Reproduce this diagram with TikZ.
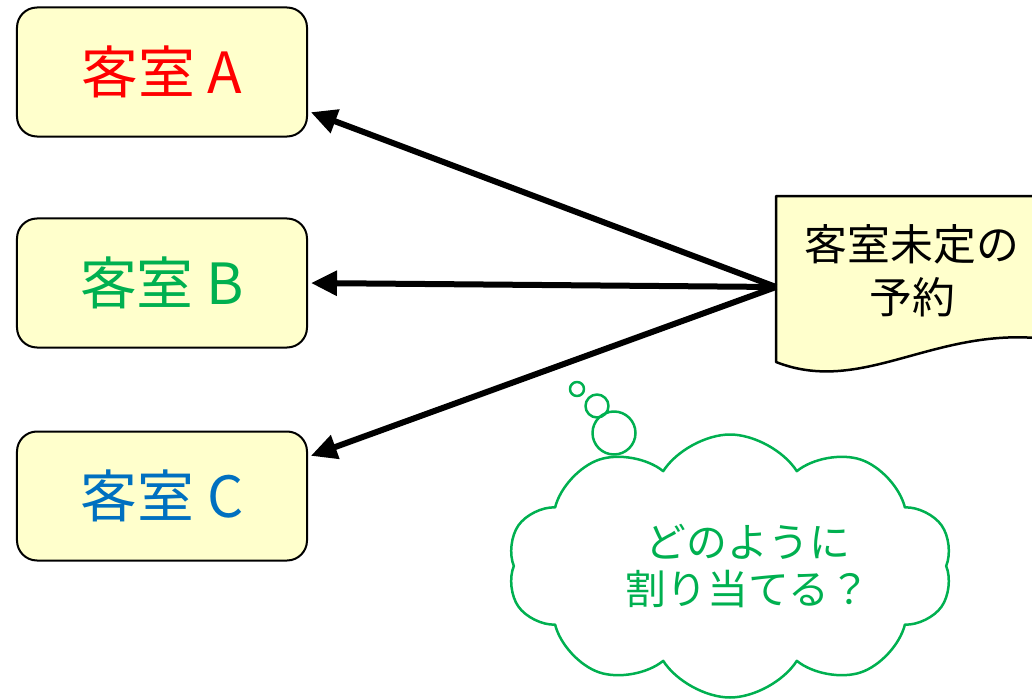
\documentclass[tikz,border=0pt]{standalone}
\usepackage{fontspec}
\setmainfont{Noto Sans CJK JP}
\usetikzlibrary{arrows.meta,shapes.symbols}
\definecolor{roomfill}{HTML}{FFFFCC}
\definecolor{roomred}{HTML}{FF0000}
\definecolor{roomgreen}{HTML}{00B050}
\definecolor{roomblue}{HTML}{0070C0}
\tikzset{
  room/.style={draw=black, line width=2bp, fill=roomfill, rounded corners=20bp,
    minimum width=290bp, minimum height=129bp, font=\fontsize{57}{62}\selectfont},
  assign/.style={line width=6bp, -{Triangle[length=26bp,width=24bp]}, shorten >=3bp},
  docshape/.style={draw=black, line width=2.5bp, fill=roomfill},
  thought/.style={cloud, draw=roomgreen, line width=2.5bp, cloud puffs=10,
    cloud puff arc=115, aspect=1.7, minimum width=445bp, minimum height=263bp},
  bubble/.style={circle, draw=roomgreen, line width=2.5bp, inner sep=0pt},
}
\begin{document}
\begin{tikzpicture}[x=1bp,y=-1bp,line join=round]
  \useasboundingbox (0,0) rectangle (1032,699);
%%
  % Rooms
  \node[room, text=roomred]   (roomA) at (162,72)  {客室 A};
  \node[room, text=roomgreen] (roomB) at (162,283) {客室 B};
  \node[room, text=roomblue]  (roomC) at (162,496) {客室 C};
  % Reservation without room
  \draw[docshape] (776,196) -- (1036,196) -- (1036,338)
    .. controls (930,330) and (860,395) .. (776,362) -- cycle;
  \node[align=center, font=\fontsize{43}{53}\selectfont] (resv) at (912,271) {客室未定の\\予約};
  \coordinate (resvW) at (776,287);
  % Edges: reservation -> rooms
  \draw[assign] (resvW) -- (roomA.-15);
  \draw[assign] (resvW) -- (roomB.east);
  \draw[assign] (resvW) -- (roomC.15);
  % Thought cloud
  \node[thought] (think) at (730,566) {};
  \node[bubble, minimum size=14bp] (bub1) at (577,389) {};
  \node[bubble, minimum size=23bp] (bub2) at (597,406) {};
  \node[bubble, minimum size=43bp] (bub3) at (614,433) {};
  \node[align=center, text=roomgreen, font=\fontsize{41}{47}\selectfont] (question) at (748,566) {どのように\\割り当てる？};
%
\end{tikzpicture}
\end{document}
